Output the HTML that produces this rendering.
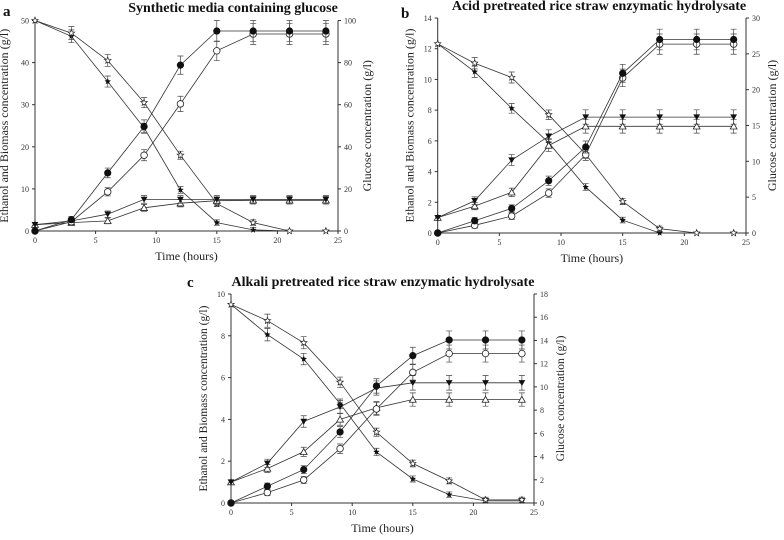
<!DOCTYPE html>
<html><head><meta charset="utf-8"><style>
html,body{margin:0;padding:0;background:#fff;}
svg{display:block;font-family:"Liberation Serif",serif;}
</style></head><body>
<svg id="fig" width="784" height="540" viewBox="0 0 784 540" xmlns="http://www.w3.org/2000/svg"></svg>
<script>
const times=[0,3,6,9,12,15,18,21,24];
// Panel a
const aEthFilled=[0,2.7,13.8,24.8,39.4,47.5,47.5,47.5,47.5];
const aEthOpen=[0,2.2,9.3,18,30.2,42.8,46.8,46.8,46.8];
const aBioFilled=[1.5,2.4,4,7.5,7.5,7.5,7.5,7.5,7.5];
const aBioOpen=[1.5,2,2.4,5.5,6.6,7.2,7.3,7.3,7.3];
const aGluFilled=[100,92.5,71,49,19.5,4,0.5,0,0];
const aGluOpen=[100,94,81,61,36,13,4,0,0];
const aLeftTicks=[0,10,20,30,40,50];
const aRightTicks=[0,20,40,60,80,100];
// Panel b
const bEthFilled=[0,0.8,1.6,3.4,5.6,10.4,12.6,12.6,12.6];
const bEthOpen=[0,0.5,1.1,2.6,5.1,10.1,12.3,12.3,12.3];
const bBioFilled=[1,2.1,4.75,6.3,7.55,7.55,7.55,7.55,7.55];
const bBioOpen=[1,1.75,2.65,5.7,6.95,6.95,6.95,6.95,6.95];
const bGluFilled=[26.4,22.5,17.4,12.6,6.4,1.8,0,0,0];
const bGluOpen=[26.4,23.7,21.7,16.5,11,4.4,0.6,0,0];
const bLeftTicks=[0,2,4,6,8,10,12,14];
const bRightTicks=[0,5,10,15,20,25,30];
// Panel c
const cEthFilled=[0,0.8,1.6,3.4,5.6,7.05,7.8,7.8,7.8];
const cEthOpen=[0,0.5,1.1,2.6,4.5,6.25,7.15,7.15,7.15];
const cBioFilled=[1,1.9,3.9,4.6,5.5,5.75,5.75,5.75,5.75];
const cBioOpen=[1,1.65,2.45,4,4.55,4.95,4.95,4.95,4.95];
const cGluFilled=[17.1,14.5,12.4,8.55,4.4,2.07,0.72,0.18,0.18];
const cGluOpen=[17.1,15.7,13.8,10.4,6.1,3.4,1.9,0.27,0.27];
const cLeftTicks=[0,2,4,6,8,10];
const cRightTicks=[0,2,4,6,8,10,12,14,16,18];
const xTicks=[0,5,10,15,20,25];

const NS="http://www.w3.org/2000/svg";
const svg=document.getElementById('fig');
function mk(tag,attrs,parent,txt){const e=document.createElementNS(NS,tag);for(const k in attrs)e.setAttribute(k,attrs[k]);if(txt!==undefined)e.textContent=txt;(parent||svg).appendChild(e);return e;}
function starPts(cx,cy,r){let p=[];for(let i=0;i<10;i++){const a=-Math.PI/2+i*Math.PI/5;const rr=i%2?r*0.45:r;p.push((cx+rr*Math.cos(a)).toFixed(1)+','+(cy+rr*Math.sin(a)).toFixed(1));}return p.join(' ');}
function marker(g,type,x,y){
  let e;
  if(type==='fc'){e=mk('circle',{cx:x,cy:y,r:3.1,fill:'#111',stroke:'#111'},g);}
  else if(type==='oc'){e=mk('circle',{cx:x,cy:y,r:3.3,fill:'#fff',stroke:'#222','stroke-width':0.8},g);}
  else if(type==='ft'){e=mk('polygon',{points:`${x-3.4},${y-2.7} ${x+3.4},${y-2.7} ${x},${y+3.2}`,fill:'#111'},g);}
  else if(type==='ot'){e=mk('polygon',{points:`${x-3.4},${y+2.7} ${x+3.4},${y+2.7} ${x},${y-3.2}`,fill:'#fff',stroke:'#222','stroke-width':0.8},g);}
  else if(type==='fs'){e=mk('polygon',{points:starPts(x,y,3.4),fill:'#111'},g);}
  else {e=mk('polygon',{points:starPts(x,y,3.4),fill:'#fff',stroke:'#222','stroke-width':0.7},g);}
  
  
}
function panel(o){
  const g=mk('g',{});
  
  
  const xs=v=>o.x0+(o.x1-o.x0)*v/25;
  const yl=v=>o.yb-(o.yb-o.yt)*v/o.lmax;
  const yr=v=>o.yb-(o.yb-o.yt)*v/o.rmax;
  const ax=mk('path',{d:`M${o.x0},${o.yt}V${o.yb}H${o.x1}V${o.yt}`,fill:'none',stroke:'#333','stroke-width':1},g);
  
  xTicks.forEach(t=>{mk('line',{x1:xs(t),x2:xs(t),y1:o.yb,y2:o.yb+3,stroke:'#333'},g);
    const tl=mk('text',{x:xs(t),y:o.yb+12,'font-size':8,'text-anchor':'middle',fill:'#333'},g,t);
    });
  o.lt.forEach(t=>{mk('line',{x1:o.x0-3,x2:o.x0,y1:yl(t),y2:yl(t),stroke:'#333'},g);
    const tl=mk('text',{x:o.x0-6,y:yl(t)+3,'font-size':8,'text-anchor':'end',fill:'#333'},g,t);
    });
  o.rt.forEach(t=>{mk('line',{x1:o.x1,x2:o.x1+3,y1:yr(t),y2:yr(t),stroke:'#333'},g);
    const tl=mk('text',{x:o.x1+6,y:yr(t)+3,'font-size':8,'text-anchor':'start',fill:'#333'},g,t);
    });
  const ym=(o.yt+o.yb)/2;
  let t=mk('text',{x:0,y:0,'font-size':o.fs,'text-anchor':'middle',fill:'#222',transform:`translate(${o.x0-o.lo},${ym}) rotate(-90)`},g,'Ethanol and Biomass concentration (g/l)');
  
  t=mk('text',{x:0,y:0,'font-size':o.fs,'text-anchor':'middle',fill:'#222',transform:`translate(${o.x1+o.ro},${ym}) rotate(-90)`},g,'Glucose concentration (g/l)');
  
  t=mk('text',{x:(o.x0+o.x1)/2,y:o.yb+29,'font-size':12,'text-anchor':'middle',fill:'#222'},g,'Time (hours)');
  
  t=mk('text',{x:o.tx,y:o.ty,'font-size':14,'font-weight':'bold','text-anchor':'middle',fill:'#111'},g,o.title);
  
  t=mk('text',{x:o.lx,y:o.ly,'font-size':15,'font-weight':'bold',fill:'#111'},g,o.id);
  
  o.series.forEach(s=>{
    const sc=s.r?yr:yl;
    const sg=mk('g',{},g);
    
    const pts=times.map((tt,i)=>xs(tt).toFixed(1)+','+sc(s.v[i]).toFixed(1)).join(' ');
    const ln=mk('polyline',{points:pts,fill:'none',stroke:'#333','stroke-width':0.8},sg);
    
    times.forEach((tt,i)=>{
      const e=s.v[i]*0.04*(o.lmax/(s.r?o.rmax:o.lmax))+ (s.r?o.rmax:o.lmax)*0.012;
      if(i>0&&s.v[i]>0){const x=xs(tt),y1=sc(s.v[i]+e),y2=sc(Math.max(0,s.v[i]-e));
        mk('path',{d:`M${x},${y1}V${y2}M${x-3},${y1}H${x+3}M${x-3},${y2}H${x+3}`,stroke:'#444','stroke-width':0.7,fill:'none'},sg);}
      marker(sg,s.m,xs(tt),sc(s.v[i]));
    });
  });
}
panel({id:'a',x0:35,x1:338,yt:20.5,yb:231,lmax:50,rmax:100,lt:aLeftTicks,rt:aRightTicks,fs:12,lo:27,ro:33,
  title:'Synthetic media containing glucose',tx:233,ty:12,lx:3,ly:16,
  series:[{n:'glucose-filled-star',m:'fs',v:aGluFilled,r:1},{n:'glucose-open-star',m:'os',v:aGluOpen,r:1},
  {n:'biomass-open',m:'ot',v:aBioOpen},{n:'biomass-filled',m:'ft',v:aBioFilled},
  {n:'ethanol-open',m:'oc',v:aEthOpen},{n:'ethanol-filled',m:'fc',v:aEthFilled}]});
panel({id:'b',x0:437.7,x1:746,yt:18,yb:233,lmax:14,rmax:30,lt:bLeftTicks,rt:bRightTicks,fs:12,lo:24,ro:30,
  title:'Acid pretreated rice straw enzymatic hydrolysate',tx:599,ty:10,lx:401,ly:18,
  series:[{n:'glucose-filled-star',m:'fs',v:bGluFilled,r:1},{n:'glucose-open-star',m:'os',v:bGluOpen,r:1},
  {n:'biomass-open',m:'ot',v:bBioOpen},{n:'biomass-filled',m:'ft',v:bBioFilled},
  {n:'ethanol-open',m:'oc',v:bEthOpen},{n:'ethanol-filled',m:'fc',v:bEthFilled}]});
panel({id:'c',x0:231,x1:534,yt:294,yb:503,lmax:10,rmax:18,lt:cLeftTicks,rt:cRightTicks,fs:11.5,lo:24,ro:30,
  title:'Alkali pretreated rice straw enzymatic hydrolysate',tx:383,ty:286,lx:187,ly:287,
  series:[{n:'glucose-filled-star',m:'fs',v:cGluFilled,r:1},{n:'glucose-open-star',m:'os',v:cGluOpen,r:1},
  {n:'biomass-open',m:'ot',v:cBioOpen},{n:'biomass-filled',m:'ft',v:cBioFilled},
  {n:'ethanol-open',m:'oc',v:cEthOpen},{n:'ethanol-filled',m:'fc',v:cEthFilled}]});
</script>
</body></html>
